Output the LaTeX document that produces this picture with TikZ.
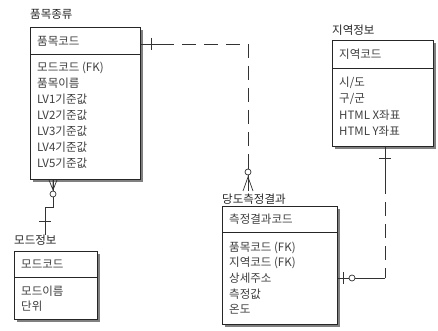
\documentclass[tikz,border=0pt]{standalone}
\usepackage{fontspec}
\setmainfont{Noto Sans CJK KR}
\usetikzlibrary{shadows}
\tikzset{
  entbox/.style={draw=black!85, fill=white, line width=0.8pt, inner sep=0pt, anchor=north west,
    drop shadow={shadow xshift=3pt, shadow yshift=-3pt, fill=black!50, opacity=1}},
  divline/.style={draw=black!85, line width=0.8pt},
  lbl/.style={anchor=west, inner sep=0pt, text=black!75, font=\fontsize{11.5}{13}\selectfont},
  ttl/.style={lbl, text=black!85},
  rel/.style={draw=black!80, line width=0.7pt},
  reldash/.style={rel, dash pattern=on 14pt off 8pt},
  optring/.style={circle, draw=black!80, fill=white, line width=0.7pt, minimum size=6pt, inner sep=0pt}
}
\begin{document}
\begin{tikzpicture}[x=1pt,y=-1pt]
\useasboundingbox (0,0) rectangle (438,331);

% ---- entity: 품목종류 ----
\node[ttl] (pumT) at (30,14) {품목종류};
\node[entbox, minimum width=110pt, minimum height=152pt] (pum) at (30,27) {};
\draw[divline] (30,54) -- (140,54);
\node[lbl] (pumK) at (37,41) {품목코드};
\node[lbl] (pum1) at (37,68) {모드코드 (FK)};
\node[lbl] (pum2) at (37,83) {품목이름};
\node[lbl] (pum3) at (37,99) {LV1기준값};
\node[lbl] (pum4) at (37,115) {LV2기준값};
\node[lbl] (pum5) at (37,131) {LV3기준값};
\node[lbl] (pum6) at (37,147) {LV4기준값};
\node[lbl] (pum7) at (37,163) {LV5기준값};

% ---- entity: 모드정보 ----
\node[ttl] (modT) at (14,240) {모드정보};
\node[entbox, minimum width=83pt, minimum height=68pt] (mod) at (14,251) {};
\draw[divline] (14,277) -- (97,277);
\node[lbl] (modK) at (21,264) {모드코드};
\node[lbl] (mod1) at (21,291) {모드이름};
\node[lbl] (mod2) at (21,306) {단위};

% ---- entity: 당도측정결과 ----
\node[ttl] (meaT) at (222,199) {당도측정결과};
\node[entbox, minimum width=115pt, minimum height=118pt] (mea) at (222,206) {};
\draw[divline] (222,232) -- (337,232);
\node[lbl] (meaK) at (229,219) {측정결과코드};
\node[lbl] (mea1) at (229,248) {품목코드 (FK)};
\node[lbl] (mea2) at (229,263) {지역코드 (FK)};
\node[lbl] (mea3) at (229,278) {상세주소};
\node[lbl] (mea4) at (229,294) {측정값};
\node[lbl] (mea5) at (229,309) {온도};

% ---- entity: 지역정보 ----
\node[ttl] (regT) at (332,30) {지역정보};
\node[entbox, minimum width=101pt, minimum height=106pt] (reg) at (332,40) {};
\draw[divline] (332,68) -- (433,68);
\node[lbl] (regK) at (339,54) {지역코드};
\node[lbl] (reg1) at (339,83) {시/도};
\node[lbl] (reg2) at (339,99) {구/군};
\node[lbl] (reg3) at (339,115) {HTML X좌표};
\node[lbl] (reg4) at (339,131) {HTML Y좌표};

% ---- 모드정보 (1) -- 품목종류 (0..n) ----
\coordinate (r1a) at (pum.south -| 53,0);
\coordinate (r1b) at (53,207);
\coordinate (r1c) at (45,207);
\coordinate (r1d) at (modT.north -| 45,0);
\draw[rel] (r1a) -- (r1b) -- (r1c) -- (r1d);
\draw[rel] (49,180) -- (53,190) -- (57,180) (53,180) -- (53,190);
\node[optring] (r1o) at (53,194) {};
\draw[rel] (39,221) -- (51,221);

% ---- 품목종류 (1) -- 당도측정결과 (0..n) ----
\coordinate (r2a) at (pum.east |- 0,44);
\coordinate (r2b) at (160,44);
\coordinate (r2c) at (248,44);
\coordinate (r2d) at (248,191);
\draw[rel] (r2a) -- (r2b);
\draw[reldash] (r2b) -- (r2c) -- (248,168);
\draw[rel] (248,168) -- (r2d);
\draw[rel] (151,38) -- (151,50);
\draw[rel] (243,191) -- (248,177) -- (253,191);
\node[optring] (r2o) at (248,172) {};

% ---- 지역정보 (1) -- 당도측정결과 (0..1) ----
\coordinate (r3a) at (reg.south -| 385,0);
\coordinate (r3b) at (385,180);
\coordinate (r3c) at (385,278);
\coordinate (r3d) at (mea.east |- 0,278);
\draw[rel] (r3a) -- (r3b);
\draw[reldash] (r3b) -- (r3c);
\draw[rel] (r3c) -- (r3d);
\draw[rel] (379,158) -- (391,158);
\draw[rel] (343,272) -- (343,284);
\node[optring] (r3o) at (352,278) {};
\end{tikzpicture}
\end{document}
